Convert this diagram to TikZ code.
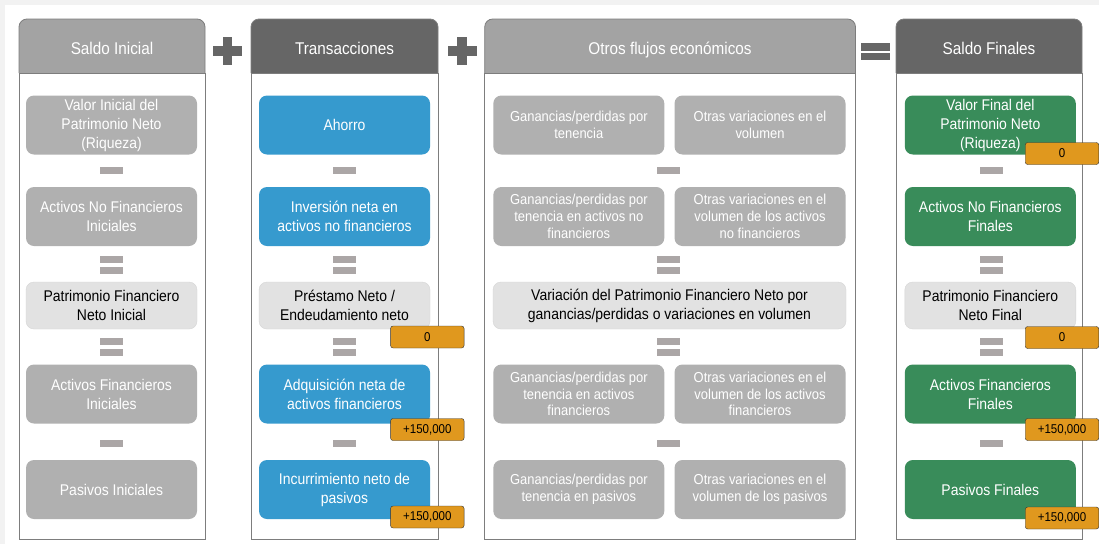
\documentclass[tikz,border=0pt]{standalone}
\usepackage{fontspec}
\setmainfont{Liberation Sans}
\newfontfamily\fontA{Liberation Sans}[FakeStretch=0.9]
\definecolor{pagebg}{RGB}{242,242,242}
\definecolor{frame}{RGB}{125,125,125}
\definecolor{hdrlight}{RGB}{163,163,163}
\definecolor{hdrdark}{RGB}{102,102,102}
\definecolor{cellgray}{RGB}{176,176,176}
\definecolor{cellfill}{RGB}{226,226,226}
\definecolor{cellline}{RGB}{214,214,214}
\definecolor{cellblue}{RGB}{54,154,206}
\definecolor{cellgreen}{RGB}{57,140,90}
\definecolor{barclr}{RGB}{171,166,166}
\definecolor{opclr}{RGB}{102,102,102}
\definecolor{badgeclr}{RGB}{224,152,30}
\definecolor{badgeline}{RGB}{51,51,51}

\begin{document}
\begin{tikzpicture}[x=1pt, y=-1pt,
    every node/.style={inner sep=0pt, align=center},
    hdr/.style={anchor=base, text=white, font=\fontA\fontsize{17}{20}\selectfont},
    cellA/.style={rounded corners=8pt, minimum width=171pt, minimum height=59pt, font=\fontA\fontsize{15.5}{19}\selectfont},
    cellS/.style={rounded corners=8pt, minimum width=171pt, minimum height=59pt, font=\fontA\fontsize{14.4}{16.7}\selectfont},
    celgris/.style={fill=cellgray, text=white},
    celazul/.style={fill=cellblue, text=white},
    celverde/.style={fill=cellgreen, text=white},
    celclara/.style={fill=cellfill, draw=cellline, text=black, minimum height=47pt},
    bar/.style={fill=barclr, minimum width=23pt, minimum height=6.6pt},
    badge/.style={fill=badgeclr, draw=badgeline, rounded corners=2.5pt, minimum width=73.5pt, minimum height=22pt, font=\fontA\fontsize{12.8}{14}\selectfont}]
    \useasboundingbox (0,0) rectangle (1099,544);
    \fill[pagebg] (0,0) rectangle (1099,544);
    \fill[white] (5,5) rectangle (1099,544);

    \foreach \l/\r/\c in {19/205/hdrlight, 251/438/hdrdark, 484.7/855.5/hdrlight, 896/1082/hdrdark} {
        \fill[\c, rounded corners=8pt] (\l,19) rectangle (\r,90);
        \filldraw[fill=white, draw=frame, line width=0.8pt] (\l,73) rectangle (\r,539);
        \draw[frame, line width=0.8pt, rounded corners=8pt] (\l,73) -- (\l,19) -- (\r,19) -- (\r,73);
    }

    \fill[opclr] (222.8,37) rectangle (232.2,65);
    \fill[opclr] (213,46.3) rectangle (242,55.7);
    \fill[opclr] (457.3,37) rectangle (466.7,65);
    \fill[opclr] (447.5,46.3) rectangle (476.5,55.7);
    \fill[opclr] (861,43.3) rectangle (890,50.6);
    \fill[opclr] (861,52.7) rectangle (890,60);

    \node[hdr] (saldoini) at (112,54.5) {Saldo Inicial};
    \node[hdr] (transac) at (344.5,54.5) {Transacciones};
    \node[hdr] (otros) at (670,54.5) {Otros flujos económicos};
    \node[hdr] (saldofin) at (989,54.5) {Saldo Finales};

    \node[cellA, celgris] (valini) at (111.5,125) {Valor Inicial del\\Patrimonio Neto\\(Riqueza)};
    \node[cellA, celgris] (anfini) at (111.5,216.5) {Activos No Financieros\\Iniciales};
    \node[cellA, celclara] (pfnini) at (111.5,305.5) {Patrimonio Financiero\\Neto Inicial};
    \node[cellA, celgris] (afini) at (111.5,394) {Activos Financieros\\Iniciales};
    \node[cellA, celgris] (pasini) at (111.5,489.5) {Pasivos Iniciales};

    \node[cellA, celazul] (ahorro) at (344.5,125) {Ahorro};
    \node[cellA, celazul] (invneta) at (344.5,216.5) {Inversión neta en\\activos no financieros};
    \node[cellA, celclara] (prestamo) at (344.5,305.5) {Préstamo Neto /\\Endeudamiento neto};
    \node[cellA, celazul] (adqneta) at (344.5,394) {Adquisición neta de\\activos financieros};
    \node[cellA, celazul] (incneto) at (344.5,489.5) {Incurrimiento neto de\\pasivos};

    \node[cellS, celgris] (gantot) at (578.8,125) {Ganancias/perdidas por\\tenencia};
    \node[cellS, celgris] (voltot) at (760,125) {Otras variaciones en el\\volumen};
    \node[cellS, celgris] (gananf) at (578.8,216.5) {Ganancias/perdidas por\\tenencia en activos no\\financieros};
    \node[cellS, celgris] (volanf) at (760,216.5) {Otras variaciones en el\\volumen de los activos\\no financieros};
    \node[cellA, celclara, minimum width=353pt] (varpfn) at (669.5,305.5) {Variación del Patrimonio Financiero Neto por\\ganancias/perdidas o variaciones en volumen};
    \node[cellS, celgris] (ganaf) at (578.8,394) {Ganancias/perdidas por\\tenencia en activos\\financieros};
    \node[cellS, celgris] (volaf) at (760,394) {Otras variaciones en el\\volumen de los activos\\financieros};
    \node[cellS, celgris] (ganpas) at (578.8,489.5) {Ganancias/perdidas por\\tenencia en pasivos};
    \node[cellS, celgris] (volpas) at (760,489.5) {Otras variaciones en el\\volumen de los pasivos};

    \node[cellA, celverde] (valfin) at (990.3,125) {Valor Final del\\Patrimonio Neto\\(Riqueza)};
    \node[cellA, celverde] (anffin) at (990.3,216.5) {Activos No Financieros\\Finales};
    \node[cellA, celclara] (pfnfin) at (990.3,305.5) {Patrimonio Financiero\\Neto Final};
    \node[cellA, celverde] (affin) at (990.3,394) {Activos Financieros\\Finales};
    \node[cellA, celverde] (pasfin) at (990.3,489.5) {Pasivos Finales};

    \foreach \x [count=\i] in {111.5, 344.5, 668.5, 991.5} {
        \node[bar] (menosa\i) at (\x,170.5) {};
        \node[bar] (iguala\i) at (\x,259.4) {};
        \node[bar] (igualb\i) at (\x,270.2) {};
        \node[bar] (igualc\i) at (\x,341.6) {};
        \node[bar] (iguald\i) at (\x,352.4) {};
        \node[bar] (menosb\i) at (\x,443.5) {};
    }

    \node[badge] (bprestamo) at (427.3,337) {0};
    \node[badge] (badqneta) at (427.3,429.5) {+150,000};
    \node[badge] (bincneto) at (427.3,517) {+150,000};
    \node[badge] (bvalfin) at (1062,153.5) {0};
    \node[badge] (bpfnfin) at (1062,337.5) {0};
    \node[badge] (baffin) at (1062,429.5) {+150,000};
    \node[badge] (bpasfin) at (1062,518) {+150,000};
\end{tikzpicture}
\end{document}
